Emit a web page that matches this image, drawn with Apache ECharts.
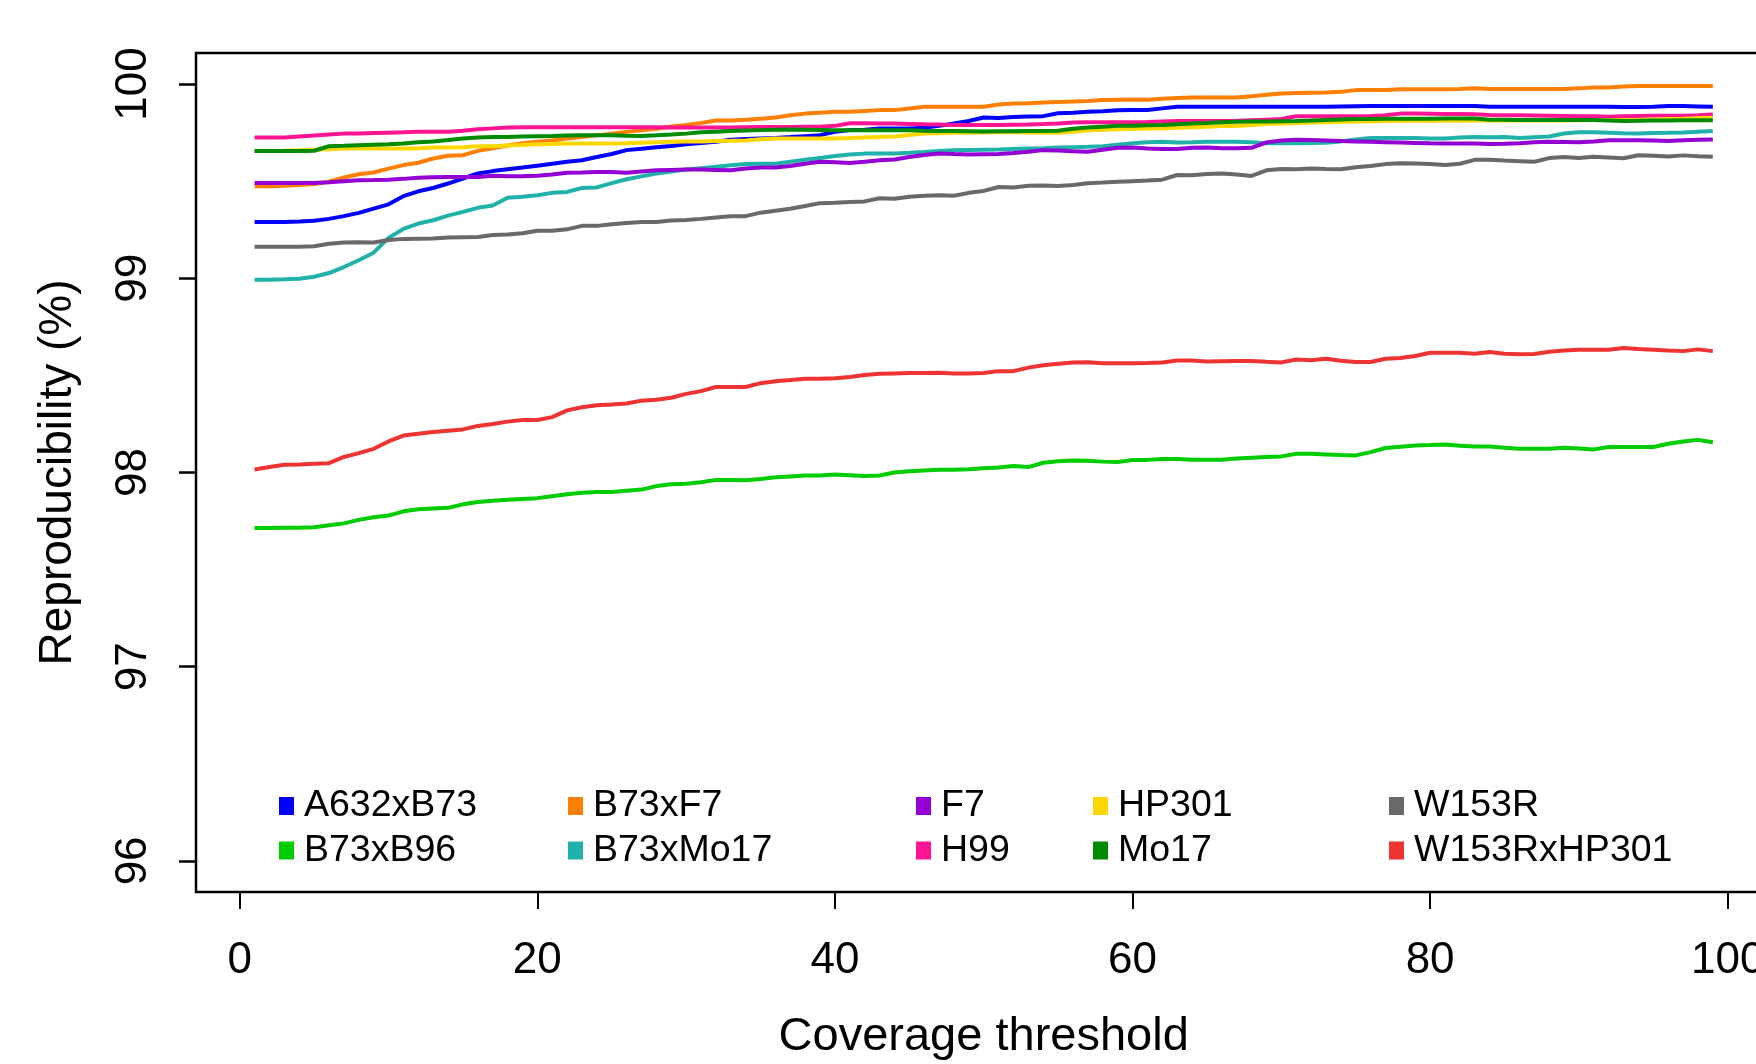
<!DOCTYPE html>
<html>
<head>
<meta charset="utf-8">
<script src="https://cdn.jsdelivr.net/npm/echarts@6/dist/echarts.min.js"></script>
<style>
  html, body { margin: 0; padding: 0; background: #fff; }
  #chart { width: 1756px; height: 1064px; }
</style>
</head>
<body>
<div id="chart"></div>
<script>
// coverage thresholds on the x axis
const thresholds = [
  1,2,3,4,5,6,7,8,9,10,11,12,13,14,15,16,17,18,19,20,21,22,23,24,25,26,27,28,29,30,31,32,33,
  34,35,36,37,38,39,40,41,42,43,44,45,46,47,48,49,50,51,52,53,54,55,56,57,58,59,60,61,62,63,64,65,66,
  67,68,69,70,71,72,73,74,75,76,77,78,79,80,81,82,83,84,85,86,87,88,89,90,91,92,93,94,95,96,97,98,99
];

// reproducibility (%) per sample
const A632xB73 = [
  99.29, 99.29, 99.29, 99.292, 99.296, 99.306, 99.32, 99.337, 99.359, 99.381, 99.423, 99.448, 99.465, 99.488, 99.514, 99.54,
  99.552, 99.562, 99.57, 99.58, 99.59, 99.6, 99.608, 99.625, 99.64, 99.66, 99.667, 99.675, 99.681, 99.69, 99.697, 99.703, 99.713,
  99.717, 99.72, 99.723, 99.727, 99.732, 99.737, 99.755, 99.763, 99.765, 99.772, 99.772, 99.772, 99.775, 99.785, 99.797, 99.81, 99.828,
  99.825, 99.83, 99.833, 99.835, 99.85, 99.853, 99.857, 99.86, 99.865, 99.866, 99.867, 99.875, 99.883, 99.883, 99.883, 99.883,
  99.883, 99.883, 99.883, 99.883, 99.883, 99.883, 99.884, 99.885, 99.886, 99.887, 99.887, 99.887, 99.887, 99.887, 99.887, 99.887, 99.887,
  99.884, 99.884, 99.884, 99.884, 99.884, 99.884, 99.884, 99.884, 99.883, 99.882, 99.882, 99.883, 99.887, 99.887, 99.885, 99.883
];
const B73xB96 = [
  97.714, 97.714, 97.715, 97.716, 97.718, 97.728, 97.738, 97.756, 97.77, 97.778, 97.8, 97.811, 97.815, 97.818, 97.836, 97.848,
  97.855, 97.86, 97.864, 97.868, 97.878, 97.888, 97.896, 97.899, 97.899, 97.906, 97.912, 97.93, 97.94, 97.942, 97.95, 97.962, 97.962,
  97.96, 97.966, 97.975, 97.98, 97.984, 97.985, 97.99, 97.986, 97.982, 97.985, 98.0, 98.006, 98.01, 98.014, 98.014, 98.017, 98.022,
  98.026, 98.034, 98.028, 98.05, 98.058, 98.062, 98.06, 98.056, 98.054, 98.064, 98.065, 98.07, 98.07, 98.066, 98.066, 98.066,
  98.072, 98.076, 98.08, 98.083, 98.096, 98.096, 98.093, 98.09, 98.088, 98.105, 98.126, 98.132, 98.139, 98.141, 98.144, 98.138, 98.134,
  98.134, 98.128, 98.122, 98.122, 98.122, 98.127, 98.124, 98.119, 98.131, 98.131, 98.131, 98.131, 98.148, 98.16, 98.168, 98.156
];
const B73xF7 = [
  99.474, 99.474, 99.476, 99.48, 99.485, 99.497, 99.519, 99.536, 99.545, 99.565, 99.583, 99.595, 99.617, 99.631, 99.634, 99.656,
  99.67, 99.684, 99.695, 99.703, 99.71, 99.72, 99.728, 99.736, 99.745, 99.754, 99.762, 99.77, 99.782, 99.79, 99.8, 99.813, 99.813,
  99.816, 99.822, 99.828, 99.84, 99.848, 99.853, 99.857, 99.858, 99.862, 99.866, 99.866, 99.874, 99.883, 99.883, 99.883, 99.883, 99.883,
  99.895, 99.9, 99.902, 99.905, 99.908, 99.91, 99.913, 99.918, 99.92, 99.921, 99.919, 99.925, 99.928, 99.931, 99.931, 99.931,
  99.931, 99.938, 99.945, 99.952, 99.954, 99.956, 99.957, 99.96, 99.969, 99.969, 99.969, 99.973, 99.974, 99.974, 99.974, 99.975, 99.978,
  99.975, 99.975, 99.975, 99.975, 99.975, 99.975, 99.978, 99.982, 99.983, 99.988, 99.99, 99.99, 99.99, 99.99, 99.99, 99.99
];
const B73xMo17 = [
  98.993, 98.993, 98.995, 98.998, 99.008, 99.027, 99.058, 99.093, 99.132, 99.208, 99.254, 99.282, 99.299, 99.323, 99.342, 99.363,
  99.375, 99.415, 99.42, 99.428, 99.44, 99.445, 99.465, 99.468, 99.49, 99.51, 99.525, 99.54, 99.55, 99.56, 99.567, 99.574, 99.582,
  99.588, 99.59, 99.59, 99.6, 99.61, 99.62, 99.63, 99.638, 99.642, 99.643, 99.643, 99.646, 99.65, 99.656, 99.66, 99.661, 99.662,
  99.663, 99.666, 99.668, 99.67, 99.673, 99.675, 99.677, 99.68, 99.688, 99.695, 99.7, 99.703, 99.699, 99.7, 99.703, 99.703,
  99.703, 99.7, 99.696, 99.695, 99.696, 99.697, 99.698, 99.705, 99.715, 99.722, 99.723, 99.723, 99.722, 99.72, 99.72, 99.725, 99.727,
  99.726, 99.728, 99.722, 99.726, 99.73, 99.746, 99.752, 99.752, 99.749, 99.747, 99.746, 99.748, 99.749, 99.751, 99.755, 99.758
];
const F7 = [
  99.491, 99.491, 99.491, 99.491, 99.491, 99.495, 99.5, 99.505, 99.506, 99.508, 99.512, 99.518, 99.52, 99.521, 99.522, 99.522,
  99.528, 99.526, 99.526, 99.528, 99.535, 99.543, 99.545, 99.548, 99.547, 99.543, 99.55, 99.556, 99.558, 99.56, 99.56, 99.558, 99.556,
  99.565, 99.57, 99.57, 99.578, 99.59, 99.6, 99.598, 99.594, 99.6, 99.608, 99.612, 99.625, 99.635, 99.643, 99.64, 99.638, 99.639,
  99.64, 99.645, 99.652, 99.66, 99.658, 99.654, 99.652, 99.662, 99.672, 99.673, 99.669, 99.666, 99.666, 99.672, 99.674, 99.67,
  99.67, 99.672, 99.7, 99.71, 99.714, 99.712, 99.71, 99.707, 99.705, 99.703, 99.701, 99.699, 99.697, 99.695, 99.694, 99.694, 99.694,
  99.692, 99.693, 99.695, 99.7, 99.703, 99.702, 99.701, 99.705, 99.711, 99.711, 99.711, 99.709, 99.707, 99.711, 99.713, 99.715
];
const H99 = [
  99.725, 99.725, 99.725, 99.73, 99.735, 99.74, 99.745, 99.745, 99.748, 99.75, 99.752, 99.755, 99.755, 99.755, 99.76, 99.768,
  99.772, 99.776, 99.778, 99.778, 99.778, 99.778, 99.778, 99.778, 99.778, 99.778, 99.778, 99.778, 99.777, 99.776, 99.776, 99.776, 99.776,
  99.778, 99.779, 99.779, 99.779, 99.78, 99.78, 99.785, 99.798, 99.799, 99.797, 99.797, 99.795, 99.793, 99.792, 99.79, 99.79, 99.789,
  99.79, 99.791, 99.792, 99.794, 99.797, 99.802, 99.804, 99.804, 99.804, 99.804, 99.805, 99.808, 99.81, 99.81, 99.81, 99.81,
  99.811, 99.814, 99.817, 99.82, 99.834, 99.835, 99.835, 99.835, 99.835, 99.836, 99.84, 99.848, 99.848, 99.847, 99.846, 99.846, 99.845,
  99.841, 99.84, 99.839, 99.838, 99.837, 99.836, 99.835, 99.834, 99.832, 99.834, 99.836, 99.837, 99.837, 99.837, 99.839, 99.843
];
const HP301 = [
  99.655, 99.656, 99.657, 99.659, 99.662, 99.665, 99.668, 99.668, 99.668, 99.668, 99.668, 99.67, 99.674, 99.674, 99.675, 99.68,
  99.68, 99.684, 99.687, 99.69, 99.692, 99.694, 99.694, 99.694, 99.694, 99.695, 99.698, 99.701, 99.703, 99.704, 99.705, 99.707, 99.708,
  99.71, 99.716, 99.72, 99.72, 99.72, 99.72, 99.72, 99.722, 99.725, 99.728, 99.73, 99.738, 99.745, 99.747, 99.749, 99.75, 99.751,
  99.753, 99.752, 99.751, 99.75, 99.749, 99.755, 99.762, 99.765, 99.767, 99.769, 99.771, 99.772, 99.775, 99.778, 99.781, 99.784,
  99.784, 99.789, 99.794, 99.797, 99.8, 99.802, 99.804, 99.806, 99.807, 99.809, 99.81, 99.811, 99.811, 99.811, 99.811, 99.811, 99.812,
  99.812, 99.812, 99.813, 99.813, 99.813, 99.813, 99.814, 99.815, 99.815, 99.815, 99.816, 99.818, 99.82, 99.822, 99.825, 99.827
];
const Mo17 = [
  99.655, 99.655, 99.656, 99.656, 99.657, 99.68, 99.682, 99.685, 99.688, 99.69, 99.694, 99.7, 99.705, 99.712, 99.72, 99.725,
  99.727, 99.728, 99.73, 99.732, 99.733, 99.735, 99.736, 99.737, 99.736, 99.734, 99.733, 99.736, 99.74, 99.745, 99.752, 99.755, 99.758,
  99.761, 99.763, 99.765, 99.766, 99.765, 99.764, 99.763, 99.763, 99.763, 99.763, 99.762, 99.762, 99.76, 99.759, 99.758, 99.757, 99.756,
  99.757, 99.757, 99.758, 99.758, 99.76, 99.77, 99.777, 99.781, 99.785, 99.786, 99.788, 99.79, 99.793, 99.797, 99.8, 99.804,
  99.806, 99.807, 99.808, 99.809, 99.81, 99.812, 99.815, 99.818, 99.82, 99.82, 99.821, 99.822, 99.822, 99.822, 99.823, 99.823, 99.823,
  99.817, 99.816, 99.815, 99.815, 99.815, 99.815, 99.815, 99.815, 99.813, 99.81, 99.811, 99.813, 99.813, 99.814, 99.814, 99.814
];
const W153R = [
  99.162, 99.162, 99.162, 99.162, 99.165, 99.178, 99.184, 99.185, 99.184, 99.197, 99.203, 99.204, 99.205, 99.21, 99.212, 99.213,
  99.223, 99.226, 99.232, 99.245, 99.245, 99.252, 99.27, 99.27, 99.278, 99.285, 99.29, 99.29, 99.298, 99.3, 99.306, 99.313, 99.319,
  99.32, 99.338, 99.348, 99.358, 99.372, 99.387, 99.389, 99.393, 99.396, 99.412, 99.41, 99.42, 99.425, 99.428, 99.425, 99.44, 99.45,
  99.47, 99.468, 99.476, 99.478, 99.475, 99.48, 99.49, 99.493, 99.497, 99.5, 99.503, 99.508, 99.532, 99.531, 99.537, 99.54,
  99.534, 99.527, 99.556, 99.563, 99.562, 99.566, 99.563, 99.562, 99.572, 99.578, 99.588, 99.593, 99.591, 99.588, 99.583, 99.59, 99.61,
  99.611, 99.606, 99.603, 99.6, 99.619, 99.625, 99.62, 99.626, 99.622, 99.618, 99.634, 99.631, 99.627, 99.633, 99.628, 99.626
];
const W153RxHP301 = [
  98.015, 98.028, 98.04, 98.041, 98.045, 98.048, 98.08, 98.1, 98.122, 98.16, 98.19, 98.199, 98.208, 98.215, 98.222, 98.24,
  98.25, 98.262, 98.27, 98.27, 98.285, 98.32, 98.336, 98.346, 98.35, 98.355, 98.37, 98.375, 98.385, 98.405, 98.419, 98.44, 98.44,
  98.44, 98.46, 98.47, 98.476, 98.483, 98.483, 98.485, 98.492, 98.502, 98.508, 98.51, 98.512, 98.513, 98.514, 98.51, 98.51, 98.512,
  98.522, 98.522, 98.54, 98.552, 98.56, 98.566, 98.568, 98.563, 98.563, 98.563, 98.564, 98.566, 98.577, 98.577, 98.572, 98.573,
  98.574, 98.574, 98.57, 98.567, 98.582, 98.578, 98.586, 98.575, 98.569, 98.569, 98.586, 98.59, 98.6, 98.617, 98.617, 98.617, 98.612,
  98.62, 98.612, 98.609, 98.61, 98.622, 98.628, 98.632, 98.632, 98.632, 98.641, 98.636, 98.632, 98.628, 98.625, 98.634, 98.625
];

const seriesNames = ['A632xB73', 'B73xB96', 'B73xF7', 'B73xMo17', 'F7', 'H99', 'HP301', 'Mo17', 'W153R', 'W153RxHP301'];
const seriesValues = [A632xB73, B73xB96, B73xF7, B73xMo17, F7, H99, HP301, Mo17, W153R, W153RxHP301];
const seriesColors = ['#0000FF', '#00CD00', '#FF7F00', '#20B2AA', '#9400D3', '#FF1493', '#FFD700', '#008B00', '#696969', '#EE3333'];

const FONT = '"Liberation Sans", Arial, Helvetica, sans-serif';

// legend: 5 columns of 2 rows, like R's legend(ncol = 5)
const legendColumns = [
  { left: 279, names: ['A632xB73', 'B73xB96'] },
  { left: 568, names: ['B73xF7', 'B73xMo17'] },
  { left: 916, names: ['F7', 'H99'] },
  { left: 1093, names: ['HP301', 'Mo17'] },
  { left: 1389, names: ['W153R', 'W153RxHP301'] }
];

// inner grid = data range 0..100 x 96..100, outer grid = R's box (4% wider), its right side falls off the page
const inner = { left: 239.7, top: 84.1, width: 1488, height: 776.8 };
const outer = { left: 196, top: 53, width: 1575, height: 839 };
const yOffset = inner.left - outer.left;
const xOffset = outer.top + outer.height - (inner.top + inner.height);

let chart = echarts.init(document.getElementById('chart'));

let option = {
  animation: false,
  backgroundColor: '#fff',
  grid: [
    {
      left: inner.left, top: inner.top, width: inner.width, height: inner.height,
      outerBoundsMode: 'none',
      show: false
    },
    {
      left: outer.left, top: outer.top, width: outer.width, height: outer.height,
      outerBoundsMode: 'none',
      show: true,
      borderColor: '#000',
      borderWidth: 2.5,
      backgroundColor: 'transparent'
    }
  ],
  legend: legendColumns.map(col => ({
    orient: 'vertical',
    left: col.left,
    top: 787,
    padding: 0,
    itemGap: 6.5,
    itemWidth: 15,
    itemHeight: 18,
    icon: 'rect',
    selectedMode: false,
    data: col.names,
    textStyle: {
      fontFamily: FONT,
      fontSize: 37.5,
      lineHeight: 37,
      color: '#000',
      padding: [0, 0, 0, 5]
    }
  })),
  xAxis: [
    {
      gridIndex: 0,
      type: 'value',
      min: 0,
      max: 100,
      interval: 20,
      offset: xOffset,
      name: 'Coverage threshold',
      nameLocation: 'middle',
      nameGap: 122,
      nameTextStyle: { fontFamily: FONT, fontSize: 47, color: '#000' },
      axisLine: { show: false },
      splitLine: { show: false },
      axisTick: { show: true, length: 17, lineStyle: { color: '#000', width: 2 } },
      axisLabel: { margin: 47, fontFamily: FONT, fontSize: 44, color: '#000' }
    },
    { gridIndex: 1, type: 'value', min: 0, max: 1, show: false }
  ],
  yAxis: [
    {
      // labels and title
      gridIndex: 0,
      position: 'left',
      type: 'value',
      min: 96,
      max: 100,
      interval: 1,
      offset: yOffset,
      name: 'Reproducibility (%)',
      nameLocation: 'middle',
      nameRotate: 90,
      nameGap: 115,
      nameMoveOverlap: false,
      nameTextStyle: { fontFamily: FONT, fontSize: 46, color: '#000' },
      axisLine: { show: false },
      splitLine: { show: false },
      axisTick: { show: false },
      axisLabel: { rotate: 90, margin: 40, fontFamily: FONT, fontSize: 44, color: '#000' }
    },
    { gridIndex: 1, type: 'value', min: 0, max: 1, show: false },
    {
      // ticks only
      gridIndex: 0,
      position: 'left',
      type: 'value',
      min: 96,
      max: 100,
      interval: 1,
      offset: yOffset,
      axisLine: { show: false },
      splitLine: { show: false },
      axisLabel: { show: false },
      axisTick: { show: true, length: 17, lineStyle: { color: '#000', width: 2.5 } }
    }
  ],
  series: seriesNames.map((name, i) => ({
    name: name,
    type: 'line',
    xAxisIndex: 0,
    yAxisIndex: 0,
    showSymbol: false,
    symbol: 'none',
    data: thresholds.map((x, j) => [x, seriesValues[i][j]]),
    lineStyle: { color: seriesColors[i], width: 4 },
    itemStyle: { color: seriesColors[i] },
    z: 2 + i
  }))
};

chart.setOption(option);
</script>
</body>
</html>
